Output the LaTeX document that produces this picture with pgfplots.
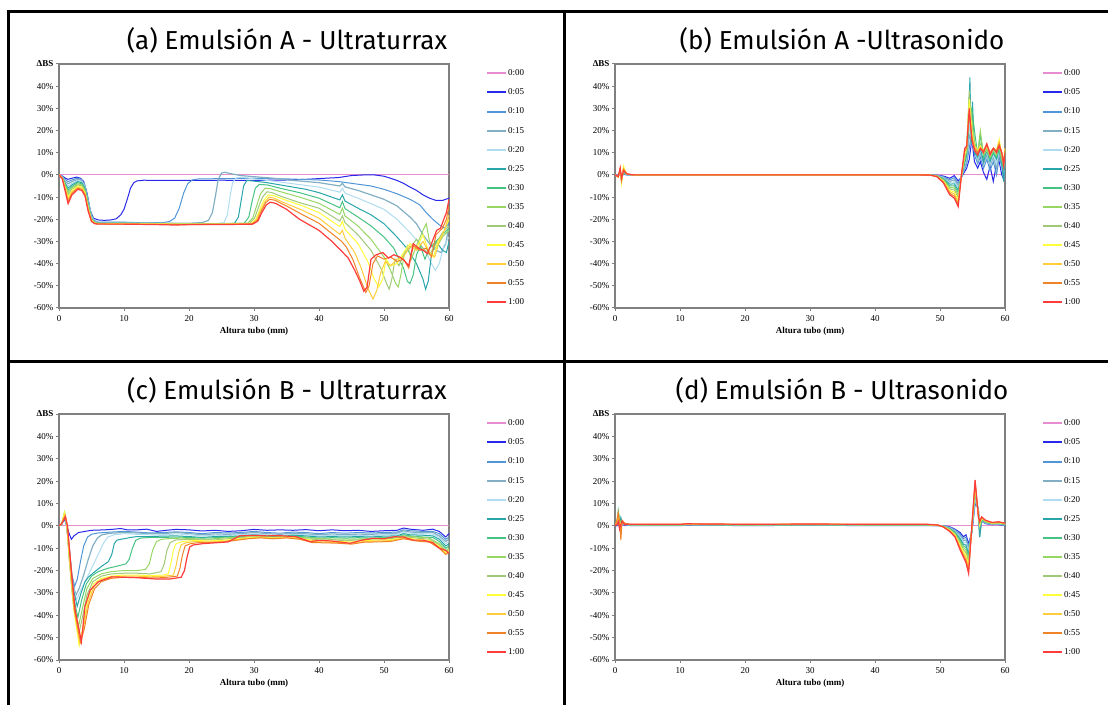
\documentclass[border=0pt]{standalone}
\usepackage{fontspec}
\setmainfont{Liberation Serif}
\newfontfamily\titlefont{Fira Sans}
\usepackage{pgfplots}
\pgfplotsset{compat=1.18}

\definecolor{c00}{RGB}{232,140,210}
\definecolor{c05}{RGB}{40,40,235}
\definecolor{c10}{RGB}{80,150,215}
\definecolor{c15}{RGB}{130,175,195}
\definecolor{c20}{RGB}{175,220,240}
\definecolor{c25}{RGB}{40,165,170}
\definecolor{c30}{RGB}{70,195,130}
\definecolor{c35}{RGB}{150,215,100}
\definecolor{c40}{RGB}{160,200,120}
\definecolor{c45}{RGB}{255,255,60}
\definecolor{c50}{RGB}{255,205,60}
\definecolor{c55}{RGB}{240,130,40}
\definecolor{c60}{RGB}{255,60,60}
\definecolor{axgray}{RGB}{128,128,128}

\newcommand\cf{\fontsize{4.5pt}{5pt}\selectfont}
\newcommand\tfont{\titlefont\fontsize{13pt}{16pt}\selectfont}

\pgfplotsset{
  panel/.style={
    scale only axis, width=195pt, height=122pt,
    xmin=0, xmax=60, ymin=-60, ymax=50,
    axis line style={draw=axgray, line width=0.6pt},
    xtick={0,10,...,60}, xticklabels={0,10,20,30,40,50,60},
    ytick={-60,-50,...,50},
    yticklabels={-60\%,-50\%,-40\%,-30\%,-20\%,-10\%,0\%,10\%,20\%,30\%,40\%,\textbf{ΔBS}},
    tick align=outside, tick pos=left,
    major tick length=1.6pt,
    tick style={draw=axgray, line width=0.5pt},
    ticklabel style={font=\cf},
    yticklabel style={inner sep=1pt},
    xticklabel style={inner sep=1pt, yshift=-1pt},
    xlabel={\textbf{Altura tubo (mm)}},
    xlabel style={font=\cf, at={(axis description cs:0.5,0)}, anchor=center, yshift=-11.5pt},
    every axis plot/.append style={line width=0.5pt, no markers},
    legend entries={0:00,0:05,0:10,0:15,0:20,0:25,0:30,0:35,0:40,0:45,0:50,0:55,1:00},
    legend image code/.code={\draw[##1, line width=1pt] (0pt,0pt) -- (9.5pt,0pt);},
    legend cell align=left,
    legend style={draw=none, fill=none, at={(axis description cs:1,1)}, anchor=north west,
      xshift=18.5pt, yshift=-2.2pt, font=\cf, inner sep=0pt, row sep=4.94pt,
      nodes={inner sep=0.3pt, text height=3.2pt, text depth=0.8pt}},
  }
}

\begin{document}
\begin{tikzpicture}
\useasboundingbox (0,0) rectangle (554pt,-352.5pt);

% ---------------- (a) Emulsion A - Ultraturrax
\begin{axis}[panel, at={(29.5pt,-154pt)}, anchor=south west]
\addplot[c00] coordinates {(0,0)(60,0)};
\addplot[c05] coordinates {(0,0)(0.5,-0.5)(1,-1.5)(1.4,-2)(2,-1.5)(2.7,-1)(3.3,-1.5)(3.8,-3)(4.3,-8)(4.8,-16)(5.3,-19.5)(6,-20.3)(7,-20.5)(8,-20.3)(8.8,-19.8)(9.5,-18)(10,-15.5)(10.5,-11)(11,-6)(11.5,-3.5)(12,-2.7)(13,-2.4)(16,-2.5)(20,-2.5)(25,-2.4)(30,-2.5)(35,-2.3)(38,-2)(41,-1.5)(43,-1.2)(45,-0.3)(47,0)(48.5,0)(50,-0.6)(51,-1.5)(52,-2.5)(53,-3.8)(54,-5.5)(55,-7)(56,-9)(57,-10.5)(58,-11.5)(59,-11.5)(60,-10.5)};
\addplot[c10] coordinates {(0,0)(0.5,-0.7)(1,-2.2)(1.4,-3)(2,-2.3)(2.8,-1.5)(3.4,-2)(3.9,-4)(4.4,-10)(4.9,-17)(5.4,-20.5)(6,-21.3)(8,-21.3)(10,-21.3)(12,-21.5)(14,-21.5)(16,-21.5)(17,-21)(17.8,-19.5)(18.5,-15)(19.2,-8)(19.8,-4)(20.5,-2.3)(21.5,-1.8)(25,-1.7)(30,-1.5)(35,-1.8)(40,-2.3)(43,-3)(45,-3.8)(48,-5)(50,-6.5)(52,-8.5)(54,-11)(55.5,-13.5)(56.5,-17)(57.5,-20)(58.5,-22.5)(59.3,-24)(60,-22)};
\addplot[c15,line width=0.6pt] coordinates {(0,0)(0.5,-0.8)(1,-3)(1.4,-4)(2,-3)(2.9,-2)(3.5,-2.5)(4,-5)(4.5,-12)(5,-18.5)(5.5,-21)(6,-21.5)(10,-21.5)(15,-21.8)(20,-21.8)(22,-21.5)(23,-20.5)(23.6,-17)(24.1,-9)(24.5,-2)(25,0.8)(25.5,1.2)(26.5,0.5)(28,-0.3)(30,-0.8)(33,-1.5)(36,-2.5)(40,-3.5)(43.2,-5)(43.6,-3.8)(44,-5.4)(46,-7)(48,-9)(50,-11)(52,-14)(54,-19)(55,-22)(56,-27)(57,-31)(58,-34)(58.8,-35)(59.5,-31)(60,-23)};
\addplot[c20] coordinates {(0,0)(0.5,-0.9)(1,-3.5)(1.4,-5)(2,-3.8)(2.9,-2.5)(3.5,-3)(4,-5.5)(4.5,-12.5)(5,-19)(5.5,-21.2)(6,-21.6)(10,-21.6)(15,-21.8)(20,-22)(24,-22)(25.4,-21.5)(25.9,-18)(26.3,-10)(26.7,-3.5)(27.2,-1.5)(28,-1)(30,-1.8)(33,-2.8)(36,-4)(40,-5.5)(43.2,-7.8)(43.6,-6)(44,-8.2)(46,-10.5)(48,-13)(50,-15.5)(52,-20)(54,-26)(55.5,-31)(56.5,-35)(57.3,-40)(57.9,-43)(58.5,-40)(59.2,-32)(60,-28)};
\addplot[c25] coordinates {(0,0)(0.5,-1)(1,-4)(1.4,-6)(2,-4.5)(2.9,-3)(3.5,-3.5)(4,-6)(4.5,-13)(5,-19.5)(5.5,-21.3)(6,-21.7)(10,-21.7)(15,-21.9)(20,-22)(25,-22)(27,-21.8)(27.6,-19)(28,-12)(28.4,-5)(28.9,-2.5)(30,-2.8)(32,-3.5)(35,-5)(38,-6.5)(40,-8)(43.2,-11.3)(43.6,-9)(44,-11.8)(46,-15)(48,-18)(50,-22)(52,-28)(53.5,-33)(55,-40)(56,-47)(56.4,-51.5)(56.8,-48)(57.3,-36)(58,-30)(59,-34)(59.6,-35)(60,-30)};
\addplot[c30] coordinates {(0,0)(0.5,-1.1)(1,-4.5)(1.4,-7)(2,-5.2)(2.9,-3.5)(3.5,-4)(4,-6.5)(4.5,-13.5)(5,-19.8)(5.5,-21.4)(6,-21.8)(10,-21.8)(15,-22)(20,-22)(25,-22)(28.5,-21.8)(29.2,-19)(29.7,-12)(30.2,-6)(30.8,-4.3)(32,-4.5)(34,-6)(37,-8)(40,-10.5)(43.2,-14.8)(43.6,-12)(44,-15.2)(46,-19)(48,-23)(50,-28)(51.5,-33)(53,-42)(53.6,-48)(54,-49)(54.5,-45)(55,-36)(55.6,-32)(56.3,-38)(57,-33)(58,-30)(59,-27)(60,-24)};
\addplot[c35] coordinates {(0,0)(0.5,-1.2)(1,-5)(1.4,-8)(2,-5.8)(2.9,-4)(3.5,-4.5)(4,-7)(4.5,-14)(5,-20)(5.5,-21.5)(6,-21.8)(10,-21.9)(15,-22)(20,-22)(25,-22)(29,-21.8)(29.8,-19.5)(30.4,-14)(31,-8.5)(31.7,-6)(32.5,-6.2)(34,-7.5)(37,-10)(40,-12.8)(43.2,-17.8)(43.6,-15)(44,-18.5)(46,-23)(48,-29)(50,-37)(51,-43)(51.8,-49)(52.2,-50.5)(52.6,-45)(53.1,-36)(53.6,-32)(54.2,-38)(55,-32)(56,-25)(56.5,-22)(57,-30)(58,-33)(59,-28)(60,-25)};
\addplot[c40] coordinates {(0,0)(0.5,-1.3)(1,-5.5)(1.4,-9)(2,-6.5)(2.9,-4.5)(3.5,-5)(4,-7.5)(4.5,-14.5)(5,-20.2)(5.5,-21.6)(6,-21.9)(10,-22)(15,-22.1)(20,-22.1)(25,-22.1)(29.3,-21.8)(30.1,-19.5)(30.7,-14.5)(31.3,-10)(32,-7.6)(32.8,-8)(34,-9.5)(37,-12.5)(40,-15)(43.2,-20.8)(43.6,-18.5)(44,-21.5)(46,-27)(48,-34)(49.5,-42)(50.4,-49)(50.8,-51.5)(51.2,-47)(51.7,-38)(52.3,-41)(53,-36)(54,-33)(55,-29)(56,-33)(57,-36)(58,-31)(59,-26)(60,-23)};
\addplot[c45] coordinates {(0,0)(0.5,-1.4)(1,-6)(1.4,-10)(2,-7)(2.9,-5)(3.5,-5.5)(4,-8)(4.5,-15)(5,-20.4)(5.5,-21.7)(6,-22)(10,-22)(15,-22.1)(20,-22.2)(25,-22.2)(29.5,-22)(30.3,-20)(30.9,-15.5)(31.5,-11.5)(32.2,-9)(33,-9.3)(35,-11.5)(37.5,-14)(40,-17)(43.2,-23.3)(43.6,-21)(44,-24.5)(46,-31)(47.5,-39)(48.5,-47)(49.2,-50.5)(49.8,-47)(50.3,-38)(51,-41)(52,-40)(53,-35)(54,-31)(55,-33)(56,-27)(56.8,-34)(57.6,-37)(58.3,-30)(59,-27)(60,-20)};
\addplot[c50] coordinates {(0,0)(0.5,-1.5)(1,-6.5)(1.4,-11)(2,-7.7)(2.9,-5.5)(3.5,-6)(4,-8.5)(4.5,-15.5)(5,-20.6)(5.5,-21.8)(6,-22)(10,-22.1)(15,-22.2)(20,-22.3)(25,-22.3)(29.6,-22)(30.4,-20.3)(31,-16)(31.7,-12)(32.3,-10)(33,-10.4)(35,-13)(37.5,-16)(40,-19.5)(43.2,-26.8)(43.6,-25)(44,-28.5)(45.5,-35)(46.5,-42)(47.5,-51)(48.3,-56)(48.9,-52)(49.5,-44)(50.2,-39)(51,-41)(52,-38)(53,-37)(54,-32)(55,-34)(56,-30)(57,-35)(57.8,-37)(58.5,-30)(59.3,-25)(60,-18)};
\addplot[c55] coordinates {(0,0)(0.5,-1.6)(1,-7)(1.4,-12)(2,-8.3)(2.9,-6)(3.5,-6.5)(4,-9)(4.5,-16)(5,-20.8)(5.5,-21.9)(6,-22.1)(10,-22.2)(15,-22.3)(20,-22.4)(25,-22.3)(29.7,-22.1)(30.5,-20.5)(31.1,-16.5)(31.8,-12.5)(32.4,-11)(33.2,-11.4)(35,-14)(37.5,-18)(40,-21.8)(42,-26.5)(43.5,-30)(44.2,-32.5)(45.2,-38)(46.2,-46)(47.2,-53)(47.7,-50)(48.3,-40)(49,-36.5)(50,-38)(51,-37)(52,-39)(53,-38)(53.8,-42)(54.5,-32)(55.5,-34)(56.5,-33)(57.3,-37)(58,-27)(59,-24)(59.6,-20)(60,-14)};
\addplot[c60,line width=0.6pt] coordinates {(0,0)(0.5,-1.7)(1,-8)(1.4,-13)(2,-9)(2.9,-6.5)(3.5,-7)(4,-9.5)(4.5,-16.5)(5,-21)(5.5,-22)(6,-22.2)(10,-22.2)(15,-22.4)(18,-22.6)(20,-22.4)(25,-22.4)(29.8,-22.2)(30.6,-20.8)(31.2,-17)(31.9,-13.5)(32.5,-12.3)(33.3,-12.8)(35,-15.5)(37,-20)(40,-25)(42,-30)(43.2,-33.5)(44.5,-37.5)(45.5,-43)(46.3,-48)(46.9,-52.5)(47.4,-50.5)(48,-38)(48.8,-36)(49.8,-35)(50.7,-37.5)(51.5,-36)(52.4,-37)(53.1,-38.5)(53.8,-41)(54.5,-31)(55.3,-33)(56,-34)(56.7,-35.5)(57.3,-31)(58.1,-25)(58.7,-24)(59.2,-20)(59.6,-17)(60,-11)};
\end{axis}

% ---------------- (b) Emulsion A - Ultrasonido
\begin{axis}[panel, at={(307.5pt,-154pt)}, anchor=south west]
\addplot[c00] coordinates {(0,0)(60,0)};
\addplot[c05] coordinates {(0,0)(0.5,-0.2)(0.8,0.5)(1,-0.5)(1.3,0.3)(1.8,0)(2.5,0.1)(3,0)(47,0)(48.5,-0.1)(49.5,-0.1)(50.5,-0.5)(51.5,-1.5)(52.2,-0.3)(52.8,-2.7)(53.3,-1)(53.8,1.5)(54.1,3)(54.5,7)(54.9,16)(55.3,6)(55.8,3)(56.2,6)(56.7,1)(57.2,-2)(57.7,4)(58.2,-3)(58.7,5)(59.1,6)(59.5,0)(59.8,-2)(60,3)};
\addplot[c10] coordinates {(0,0)(0.5,-0.3)(0.8,0.8)(1,-0.8)(1.3,0.5)(1.8,0.1)(2.5,0.1)(3,0)(47,0)(48.5,-0.1)(49.5,-0.2)(50.5,-0.8)(51.5,-2.2)(52.2,-1.2)(52.8,-3.8)(53.3,-0.9)(53.8,2.5)(54.1,5)(54.5,12)(54.9,20)(55.3,9)(55.8,5)(56.2,8)(56.7,3)(57.2,7)(57.7,2)(58.2,6)(58.7,0)(59.1,8)(59.5,4)(59.8,-1)(60,6)};
\addplot[c15,line width=0.6pt] coordinates {(0,0)(0.5,-0.4)(0.8,1)(1,-1.2)(1.3,0.8)(1.8,0.1)(2.5,0.1)(3,0)(47,0)(48.5,-0.1)(49.5,-0.2)(50.5,-1)(51.5,-2.9)(52.2,-2.2)(52.8,-4.8)(53.3,-0.8)(53.8,3.4)(54.1,6)(54.5,18)(54.9,14)(55.3,12)(55.8,6)(56.2,10)(56.7,5)(57.2,9)(57.7,4)(58.2,8)(58.7,3)(59.1,10)(59.5,6)(59.8,-3)(60,8)};
\addplot[c20] coordinates {(0,0)(0.5,-0.5)(0.8,1.2)(1,-1.5)(1.3,1)(1.8,0.2)(2.5,0.1)(3,0)(47,0)(48.5,-0.1)(49.5,-0.3)(50.5,-1.3)(51.5,-3.5)(52.2,-3.1)(52.8,-5.9)(53.3,-0.7)(53.8,4.4)(54.1,8)(54.5,22)(54.9,16)(55.3,11)(55.8,7)(56.2,11)(56.7,7)(57.2,10)(57.7,5)(58.2,9)(58.7,5)(59.1,11)(59.5,7)(59.8,1)(60,9)};
\addplot[c25] coordinates {(0,0)(0.5,-0.6)(0.8,1.5)(1,-1.8)(1.3,1.2)(1.8,0.2)(2.5,0.1)(3,0)(47,0)(48.5,-0.1)(49.5,-0.4)(50.5,-1.6)(51.5,-4.2)(52.2,-4)(52.8,-6.9)(53.3,-0.6)(53.8,5.3)(54.1,9)(54.4,20)(54.6,44)(54.8,14)(55,33)(55.3,10)(55.8,8)(56.2,12)(56.7,6)(57.2,11)(57.7,6)(58.2,10)(58.7,7)(59.1,12)(59.5,5)(59.8,-3)(60,10)};
\addplot[c30] coordinates {(0,0)(0.5,-0.7)(0.8,1.8)(1,-2.2)(1.3,1.5)(1.8,0.3)(2.5,0.1)(3,0)(47,0)(48.5,-0.1)(49.5,-0.4)(50.5,-1.9)(51.5,-4.9)(52.2,-4.9)(52.8,-8)(53.3,-0.5)(53.8,6.3)(54.1,10)(54.5,26)(54.9,30)(55.3,20)(55.8,9)(56.2,18)(56.7,8)(57.2,12)(57.7,7)(58.2,10)(58.7,8)(59.1,12)(59.5,6)(59.8,3)(60,10)};
\addplot[c35] coordinates {(0,0)(0.5,-0.8)(0.8,2)(1,-2.5)(1.3,1.8)(1.8,0.3)(2.5,0.1)(3,0)(47,0)(48.5,-0.1)(49.5,-0.5)(50.5,-2.1)(51.5,-5.6)(52.2,-5.9)(52.8,-9)(53.3,-0.5)(53.8,7.2)(54.1,11)(54.5,35)(54.9,25)(55.3,15)(55.8,10)(56.2,20)(56.7,9)(57.2,11)(57.7,8)(58.2,11)(58.7,9)(59.1,13)(59.5,7)(59.8,4)(60,11)};
\addplot[c40] coordinates {(0,0)(0.5,-1)(0.8,2.5)(1,-3)(1.3,2.5)(1.8,0.3)(2.5,0.1)(3,0)(47,0)(48.5,-0.1)(49.5,-0.5)(50.5,-2.4)(51.5,-6.3)(52.2,-6.8)(52.8,-10.1)(53.3,-0.4)(53.8,8.2)(54.1,11)(54.5,38)(54.9,22)(55.3,14)(55.8,10)(56.2,14)(56.7,10)(57.2,12)(57.7,9)(58.2,12)(58.7,10)(59.1,14)(59.5,8)(59.8,5)(60,11)};
\addplot[c45] coordinates {(0,0)(0.5,-1.2)(0.8,3)(1,-3.5)(1.3,4)(1.8,0.4)(2.5,0.1)(3,0)(47,0)(48.5,-0.1)(49.5,-0.6)(50.5,-2.7)(51.5,-7)(52.2,-7.7)(52.8,-11.1)(53.3,-0.3)(53.8,9.1)(54.1,12)(54.5,34)(54.9,20)(55.3,13)(55.8,11)(56.2,13)(56.7,10)(57.2,13)(57.7,9)(58.2,12)(58.7,11)(59.1,16)(59.5,9)(59.8,5)(60,12)};
\addplot[c50] coordinates {(0,0)(0.5,-1)(0.8,2.5)(1,-3)(1.3,3)(1.8,0.4)(2.5,0.1)(3,0)(47,0)(48.5,-0.1)(49.5,-0.7)(50.5,-3)(51.5,-7.6)(52.2,-8.6)(52.8,-12.2)(53.3,-0.2)(53.8,10.1)(54.1,12)(54.5,30)(54.9,18)(55.3,13)(55.8,11)(56.2,12)(56.7,11)(57.2,13)(57.7,10)(58.2,12)(58.7,11)(59.1,15)(59.5,10)(59.8,6)(60,12)};
\addplot[c55] coordinates {(0,0)(0.5,-0.9)(0.8,2.8)(1,-2.5)(1.3,2.5)(1.8,0.5)(2.5,0.1)(3,0)(47,0)(48.5,-0.1)(49.5,-0.7)(50.5,-3.2)(51.5,-8.3)(52.2,-9.6)(52.8,-13.2)(53.3,-0.1)(53.8,11)(54.1,12)(54.5,28)(54.9,17)(55.3,12)(55.8,10)(56.2,12)(56.7,11)(57.2,14)(57.7,10)(58.2,12)(58.7,11)(59.1,14)(59.5,10)(59.8,6)(60,11)};
\addplot[c60,line width=0.6pt] coordinates {(0,0)(0.5,-0.8)(0.8,3.2)(1,-1.5)(1.3,2)(1.8,0.5)(2.5,0.1)(3,0)(47,0)(48.5,-0.1)(49.5,-0.8)(50.5,-3.5)(51.5,-9)(52.2,-10.5)(52.8,-14.3)(53.3,0)(53.8,12)(54.1,13)(54.5,30)(54.9,16)(55.3,11)(55.8,9)(56.2,12)(56.7,10)(57.2,14)(57.7,9)(58.2,12)(58.7,10)(59.1,13)(59.5,10)(59.8,4)(60,10)};
\end{axis}

% ---------------- (c) Emulsion B - Ultraturrax
\begin{axis}[panel, height=123pt, at={(29.5pt,-330pt)}, anchor=south west]
\addplot[c00] coordinates {(0,0)(60,0)};
\addplot[c05] coordinates {(0,0)(0.4,0.5)(0.8,3)(1.1,1)(1.5,-3)(1.9,-6)(2.3,-4.5)(3,-3)(4,-2.5)(5,-2)(7,-1.8)(8.5,-1.5)(9.5,-1.2)(10.5,-1.8)(12,-1.8)(13.5,-1.5)(15,-2.5)(16.5,-2)(18,-1.6)(20,-1.8)(22,-2.3)(24,-2)(26,-2.5)(28,-2.2)(30,-1.6)(32,-2)(34,-1.8)(36,-2)(38,-1.7)(40,-2.2)(42,-1.8)(44,-2.2)(46,-2)(48,-2.5)(50,-2.2)(52,-2)(53,-1)(54,-1.5)(56,-2)(57.5,-1.5)(58.5,-2.5)(59.5,-5)(60,-3.5)};
\addplot[c10] coordinates {(0,0)(0.4,0.5)(0.85,4)(1.2,0)(1.6,-10)(2,-22)(2.4,-27)(2.8,-24)(3.3,-16)(3.8,-9)(4.4,-5)(5,-3.8)(6,-3.2)(8,-2.8)(10,-2.5)(12,-2.8)(14,-3.2)(16,-3)(18,-2.7)(20,-3)(22,-3.5)(24,-3)(26,-3.2)(28,-3)(30,-2.5)(32,-3)(34,-3.3)(36,-2.8)(38,-3)(40,-3.5)(42,-3)(44,-3.3)(46,-3)(48,-3.2)(50,-3)(52,-2.8)(53,-1.8)(54,-2.2)(56,-2.5)(57.5,-2.5)(58.5,-3.5)(59.5,-6)(60,-5)};
\addplot[c15,line width=0.6pt] coordinates {(0,0)(0.4,0.5)(0.85,4.5)(1.2,0)(1.6,-11)(2,-24)(2.6,-31)(3.1,-28)(3.8,-22)(4.5,-15)(5.2,-9)(5.9,-5.5)(6.6,-4)(8,-3.3)(10,-3)(12,-3.2)(14,-3.5)(16,-3.5)(18,-3)(20,-3.4)(22,-4)(24,-3.6)(26,-3.8)(28,-3.5)(30,-3)(32,-3.5)(34,-3.8)(36,-3.3)(38,-3.6)(40,-4)(42,-3.6)(44,-4)(46,-3.7)(48,-3.8)(50,-3.5)(52,-3.3)(53,-2.2)(54,-2.8)(56,-3)(57.5,-3)(58.5,-4.5)(59.5,-7)(60,-6)};
\addplot[c20] coordinates {(0,0)(0.4,0.5)(0.85,5)(1.2,0)(1.6,-12)(2,-25)(2.7,-33)(3.3,-29)(4,-25)(5,-19)(6,-13)(6.8,-8)(7.5,-5)(8.5,-4)(10,-3.5)(12,-3.8)(14,-4)(16,-4)(18,-3.6)(20,-4)(22,-4.5)(24,-4.2)(26,-4.3)(28,-4)(30,-3.6)(32,-4)(33.5,-5)(35,-3.8)(38,-4)(40,-4.5)(42,-4.2)(44,-4.5)(46,-4.2)(48,-4.5)(50,-4)(52,-3.8)(53,-2.8)(54,-3.3)(56,-3.5)(57.5,-3.7)(58.5,-5.2)(59.5,-8)(60,-7)};
\addplot[c25] coordinates {(0,0)(0.4,0.6)(0.85,5)(1.2,0)(1.6,-13)(2.1,-27)(2.8,-36)(3.4,-30)(4,-25)(4.5,-23)(5.5,-20.5)(6.6,-18)(7.6,-16)(8.1,-13)(8.5,-8)(8.9,-6.4)(9.5,-6)(10,-5.8)(11,-5.2)(12,-4.8)(14,-4.8)(16,-4.6)(18,-4.5)(20,-4.8)(22,-5.2)(24,-4.8)(26,-4.8)(28,-4.5)(30,-4)(32,-4.5)(34,-4.8)(36,-4.2)(38,-4.5)(40,-5)(42,-4.8)(44,-5)(46,-4.8)(48,-5)(50,-4.6)(52,-4.5)(53,-3.5)(54,-4)(56,-4.2)(57.5,-4.5)(58.5,-6)(59.5,-9)(60,-8)};
\addplot[c30] coordinates {(0,0)(0.4,0.6)(0.85,5.5)(1.2,0)(1.6,-14)(2.1,-30)(2.9,-41)(3.5,-33)(4.2,-26)(5,-22.5)(6,-20.5)(7.5,-19)(9,-18)(10.3,-17)(10.8,-15)(11.3,-10)(11.8,-6.5)(12.5,-5.5)(14,-5.2)(16,-5.2)(18,-5)(20,-5.2)(22,-5.5)(24,-5.3)(26,-5)(28,-4.8)(30,-4.3)(32,-4.8)(34,-5)(36,-4.5)(38,-5)(40,-5.5)(42,-5.3)(44,-5.5)(46,-5.3)(48,-5.5)(50,-5.2)(52,-5)(53,-4)(54,-4.5)(56,-5)(57.5,-5.2)(58.5,-7)(59.5,-10)(60,-9)};
\addplot[c35] coordinates {(0,0)(0.4,0.7)(0.85,6)(1.2,0.5)(1.6,-15)(2.1,-32)(3,-45)(3.6,-37)(4.3,-28)(5.2,-23.5)(6.5,-21.5)(8,-20.5)(10,-20)(12,-20)(13.3,-19.5)(13.9,-17)(14.4,-11)(15,-7)(15.8,-6)(17,-5.7)(19,-5.5)(21,-5.8)(23,-6)(25,-5.5)(27,-5.2)(29,-5)(31,-4.8)(33,-5.2)(35,-4.6)(37,-5.2)(39,-5.5)(41,-5.8)(43,-6)(45,-6)(47,-5.8)(49,-5.5)(51,-5.5)(53,-4.5)(55,-5)(57,-5.5)(58.5,-8)(59.5,-11)(60,-10)};
\addplot[c40] coordinates {(0,0)(0.4,0.7)(0.85,6)(1.2,0.5)(1.6,-16)(2.2,-35)(3,-49)(3.6,-41)(4.3,-31)(5.2,-25)(6.5,-22.5)(8,-21.5)(10,-21.2)(12,-21.2)(14,-21.5)(15.7,-20.5)(16.2,-17)(16.6,-11)(17.1,-7.5)(18,-6.3)(20,-6)(22,-6.3)(24,-6.3)(26,-5.8)(28,-5.3)(30,-5)(32,-5.3)(34,-5)(36,-5)(38,-5.8)(40,-6.3)(42,-6.2)(44,-6.7)(46,-6.3)(48,-6)(50,-6)(52,-5.5)(53,-4.8)(55,-5.5)(57,-6)(58.5,-8.5)(59.5,-11.5)(60,-10.5)};
\addplot[c45] coordinates {(0,0)(0.4,0.8)(0.85,6)(1.2,0.5)(1.7,-18)(2.3,-38)(3.1,-53.5)(3.7,-45)(4.4,-33)(5.3,-26)(6.5,-23.5)(8,-22.5)(10,-22)(12,-22)(14,-22.3)(16,-22)(16.8,-21.5)(17.2,-17)(17.6,-11)(18,-8)(19,-7)(21,-6.5)(23,-6.8)(25,-6.5)(27,-6)(29,-5.3)(31,-5)(33,-5.4)(35,-5)(37,-5.5)(39,-6.5)(41,-6.8)(43,-7)(45,-7.2)(47,-6.6)(49,-6.4)(51,-6.2)(53,-5.2)(55,-6)(57,-6.5)(58.5,-9)(59.5,-12)(60,-11)};
\addplot[c50] coordinates {(0,0)(0.4,0.8)(0.9,5)(1.2,0.5)(1.7,-18)(2.3,-37)(3.2,-52.5)(3.8,-45)(4.5,-34)(5.4,-27)(6.5,-24)(8,-23)(10,-22.5)(12,-22.5)(14,-22.8)(16,-22.6)(17.6,-22)(18,-18)(18.4,-12)(18.8,-8.5)(19.6,-7.5)(21,-7)(23,-7.2)(25,-7)(27,-6.3)(29,-5.6)(31,-5.2)(33,-5.6)(35,-5.2)(37,-5.8)(39,-7)(41,-7.3)(43,-7.5)(45,-7.8)(47,-7)(49,-6.8)(51,-6.6)(53,-5.6)(55,-6.5)(57,-7)(58.5,-9.5)(59.5,-12.5)(60,-11.5)};
\addplot[c55] coordinates {(0,0)(0.4,0.8)(0.95,4.5)(1.3,0)(1.8,-18)(2.4,-38)(3.3,-52)(3.9,-46)(4.6,-35)(5.5,-28)(6.5,-25)(8,-23.5)(10,-23)(12,-23)(14,-23.3)(16,-23.2)(18.2,-22.5)(18.6,-19)(19,-13)(19.4,-9)(20.2,-8)(21.5,-7.5)(23,-7.5)(25,-7.3)(27,-6.6)(29,-5.8)(31,-5.4)(33,-5.8)(35,-5.4)(37,-6)(39,-7.5)(41,-7.6)(43,-7.8)(45,-8.2)(47,-7.3)(49,-7.2)(51,-7)(53,-5.8)(55,-6.8)(57,-7.3)(58.5,-10)(59.5,-12.8)(60,-12)};
\addplot[c60,line width=0.6pt] coordinates {(0,0)(0.4,1)(1,4)(1.3,0)(1.9,-19.8)(2.5,-38)(3.45,-51.8)(4,-36)(4.8,-28.7)(6.05,-25)(8.1,-22.8)(10,-23)(12,-23.2)(14,-23.6)(15,-23.8)(17,-23.8)(18.8,-23)(19.3,-20)(19.7,-14)(20.1,-9.5)(20.6,-8.6)(22,-8)(24,-7.6)(26,-7.2)(27.8,-4.5)(30,-4.3)(32,-4.5)(34,-4.4)(36.5,-4.9)(38.6,-7.1)(40,-6.5)(42,-6.8)(44.8,-7.8)(46.5,-6.5)(48.3,-5.6)(50,-5.8)(51.5,-4.9)(53,-5)(54.5,-6.4)(56,-6.4)(57.5,-7.5)(58.5,-10)(59.5,-11)(60,-12.3)};
\end{axis}

% ---------------- (d) Emulsion B - Ultrasonido
\begin{axis}[panel, height=123pt, at={(307.5pt,-330pt)}, anchor=south west]
\addplot[c00] coordinates {(0,0)(60,0)};
\addplot[c05] coordinates {(0,0)(0.3,0)(0.5,0.5)(0.7,0.5)(0.9,1)(1.1,0.5)(1.5,0.3)(2,0.2)(2.5,0.1)(5,0.1)(10,0.1)(11,0.3)(20,0.1)(30,0.2)(40,0.1)(48,0.1)(49.7,0.05)(50.5,0)(51.5,-0.4)(52.3,-1.5)(53.1,-3)(53.6,-4.9)(54,-4)(54.4,-8)(54.9,-3)(55.4,10)(55.9,8)(56.1,-3)(56.4,2)(57,1)(58,0.5)(59,0.5)(60,0.3)};
\addplot[c10] coordinates {(0,0)(0.3,0.2)(0.5,1)(0.7,1)(0.9,1.5)(1.1,0.8)(1.5,0.5)(2,0.3)(2.5,0.2)(5,0.2)(10,0.2)(11,0.4)(20,0.2)(30,0.3)(40,0.2)(48,0.2)(49.7,0.1)(50.5,0)(51.5,-0.6)(52.3,-1.8)(53.1,-3.7)(53.6,-5.7)(54,-5.1)(54.4,-9.2)(54.9,-2.7)(55.4,11)(55.9,7.6)(56.1,-2.5)(56.4,2.2)(57,1.1)(58,0.6)(59,0.6)(60,0.4)};
\addplot[c15,line width=0.6pt] coordinates {(0,0)(0.3,0.5)(0.5,1.5)(0.7,1.5)(0.9,2)(1.1,1)(1.5,0.6)(2,0.4)(2.5,0.3)(5,0.25)(10,0.25)(11,0.45)(20,0.25)(30,0.35)(40,0.25)(48,0.25)(49.7,0.1)(50.5,-0.1)(51.5,-0.8)(52.3,-2.1)(53.1,-4.4)(53.6,-6.6)(54,-6.3)(54.4,-10.4)(54.9,-2.5)(55.4,11.9)(55.9,7.3)(56.1,-5)(56.4,2.4)(57,1.3)(58,0.7)(59,0.7)(60,0.5)};
\addplot[c20] coordinates {(0,0)(0.3,0.8)(0.5,2)(0.7,1.8)(0.9,2.5)(1.1,1.2)(1.5,0.7)(2,0.4)(2.5,0.3)(5,0.3)(10,0.3)(11,0.5)(20,0.3)(30,0.4)(40,0.3)(48,0.3)(49.7,0.15)(50.5,-0.1)(51.5,-1)(52.3,-2.5)(53.1,-5.1)(53.6,-7.4)(54,-7.4)(54.4,-11.6)(54.9,-2.2)(55.4,12.9)(55.9,6.9)(56.1,-1.6)(56.4,2.5)(57,1.4)(58,0.8)(59,0.9)(60,0.5)};
\addplot[c25] coordinates {(0,0)(0.3,1)(0.5,2.5)(0.7,1)(0.9,3.8)(1.1,1.5)(1.5,0.8)(2,0.5)(2.5,0.4)(5,0.35)(10,0.35)(11,0.55)(20,0.35)(30,0.45)(40,0.35)(48,0.35)(49.7,0.15)(50.5,-0.2)(51.5,-1.2)(52.3,-2.8)(53.1,-5.8)(53.6,-8.2)(54,-8.6)(54.4,-12.8)(54.9,-1.9)(55.4,17)(55.9,6.5)(56.1,-5)(56.4,2.7)(57,1.5)(58,0.9)(59,1)(60,0.6)};
\addplot[c30] coordinates {(0,0)(0.3,2)(0.5,7)(0.7,3)(0.9,2)(1.1,1.5)(1.5,0.8)(2,0.6)(2.5,0.4)(5,0.4)(10,0.4)(11,0.6)(20,0.4)(30,0.5)(40,0.4)(48,0.4)(49.7,0.2)(50.5,-0.2)(51.5,-1.4)(52.3,-3.1)(53.1,-6.5)(53.6,-9)(54,-9.7)(54.4,-14.1)(54.9,-1.6)(55.4,14.8)(55.9,6.2)(56.1,-0.7)(56.4,2.9)(57,1.7)(58,1)(59,1.1)(60,0.7)};
\addplot[c35] coordinates {(0,0)(0.3,1.5)(0.5,5)(0.7,2.5)(0.9,1.5)(1.1,1.2)(1.5,0.9)(2,0.6)(2.5,0.5)(5,0.45)(10,0.45)(11,0.65)(20,0.45)(30,0.55)(40,0.45)(48,0.45)(49.7,0.2)(50.5,-0.3)(51.5,-1.5)(52.3,-3.4)(53.1,-7.3)(53.6,-9.9)(54,-10.8)(54.4,-15.2)(54.9,-1.4)(55.4,15.7)(55.9,5.8)(56.1,-0.3)(56.4,3.1)(57,1.8)(58,1)(59,1.2)(60,0.8)};
\addplot[c40] coordinates {(0,0)(0.3,1.2)(0.5,4)(0.7,2)(0.9,1)(1.1,1.3)(1.5,0.9)(2,0.6)(2.5,0.5)(5,0.5)(10,0.5)(11,0.7)(20,0.5)(30,0.6)(40,0.5)(48,0.5)(49.7,0.25)(50.5,-0.3)(51.5,-1.7)(52.3,-3.7)(53.1,-8)(53.6,-10.7)(54,-12)(54.4,-16.5)(54.9,-1.1)(55.4,16.7)(55.9,5.5)(56.1,0.2)(56.4,3.3)(57,2)(58,1.1)(59,1.3)(60,0.9)};
\addplot[c45] coordinates {(0,0)(0.3,1.5)(0.5,4.5)(0.7,1.5)(0.9,0.5)(1.1,1.5)(1.5,1)(2,0.7)(2.5,0.5)(5,0.55)(10,0.55)(11,0.75)(20,0.55)(30,0.65)(40,0.55)(48,0.55)(49.7,0.25)(50.5,-0.4)(51.5,-1.9)(52.3,-4)(53.1,-8.7)(53.6,-11.5)(54,-13.1)(54.4,-17.7)(54.9,-0.8)(55.4,17.6)(55.9,5.1)(56.1,0.6)(56.4,3.5)(57,2.1)(58,1.2)(59,1.4)(60,0.9)};
\addplot[c50] coordinates {(0,0)(0.3,2)(0.5,5)(0.7,1)(0.9,-2)(1.1,1.5)(1.5,1)(2,0.7)(2.5,0.6)(5,0.6)(10,0.6)(11,0.8)(20,0.6)(30,0.7)(40,0.6)(48,0.6)(49.7,0.3)(50.5,-0.4)(51.5,-2.1)(52.3,-4.4)(53.1,-9.4)(53.6,-12.3)(54,-14.2)(54.4,-18.9)(54.9,-0.5)(55.4,18.6)(55.9,4.7)(56.1,1.1)(56.4,3.6)(57,2.2)(58,1.3)(59,1.6)(60,1)};
\addplot[c55] coordinates {(0,0)(0.3,2.5)(0.5,6)(0.7,2)(0.9,-6.4)(1.1,2.5)(1.5,1.2)(2,0.8)(2.5,0.6)(5,0.65)(10,0.65)(11,0.85)(20,0.65)(30,0.75)(40,0.65)(48,0.65)(49.7,0.3)(50.5,-0.5)(51.5,-2.3)(52.3,-4.7)(53.1,-10.1)(53.6,-13.2)(54,-15.4)(54.4,-20.1)(54.9,-0.3)(55.4,20)(55.9,4.4)(56.1,1.5)(56.4,3.8)(57,2.4)(58,1.4)(59,1.7)(60,1.1)};
\addplot[c60,line width=0.6pt] coordinates {(0,0)(0.3,0.5)(0.5,2)(0.7,-1.5)(0.9,0.5)(1.1,2)(1.5,0.5)(2,0.8)(2.5,0.7)(5,0.7)(10,0.7)(11,0.9)(20,0.7)(30,0.8)(40,0.7)(48,0.7)(49.7,0.35)(50.5,-0.5)(51.5,-2.5)(52.3,-5)(53.1,-10.8)(53.6,-14)(54,-16.5)(54.4,-21.3)(54.9,0)(55.4,20.5)(55.9,4)(56.1,2)(56.4,4)(57,2.5)(58,1.5)(59,1.8)(60,1.2)};
\end{axis}

% titles
\node[anchor=base, font=\tfont] at (143.5pt,-24.7pt) {(a) Emulsión A - Ultraturrax};
\node[anchor=base, font=\tfont] at (421pt,-24.7pt) {(b) Emulsión A -Ultrasonido};
\node[anchor=base, font=\tfont] at (143.5pt,-200pt) {(c) Emulsión B - Ultraturrax};
\node[anchor=base, font=\tfont] at (421pt,-200pt) {(d) Emulsión B - Ultrasonido};

% frame
\draw[line width=1.6pt] (3.3pt,-5.85pt) -- (554pt,-5.85pt);
\draw[line width=1.6pt] (4.1pt,-5.85pt) -- (4.1pt,-352.5pt);
\draw[line width=1.6pt] (282.1pt,-5.85pt) -- (282.1pt,-352.5pt);
\draw[line width=1.6pt] (4.1pt,-180.8pt) -- (554pt,-180.8pt);
\end{tikzpicture}
\end{document}
